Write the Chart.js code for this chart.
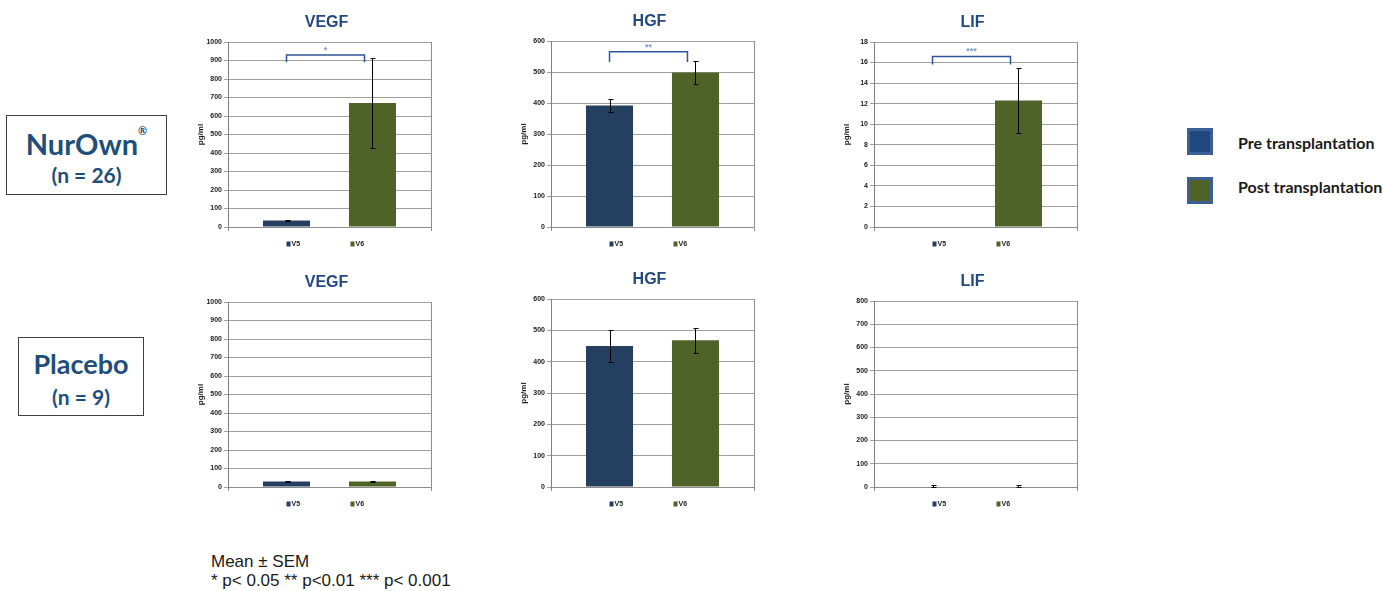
<!DOCTYPE html>
<html>
<head>
<meta charset="utf-8">
<title>NurOwn vs Placebo</title>
<script src="https://cdn.jsdelivr.net/npm/chart.js@4.4.1/dist/chart.umd.min.js"></script>
<style>
  body { margin: 0; width: 1383px; height: 591px; background: #fff; position: relative; overflow: hidden; font-family: Lato, sans-serif; }
  canvas { position: absolute; }
  .group { position: absolute; border: 1px solid #404040; box-sizing: border-box; color: #1F4E79; font-weight: 700; text-align: center; }
  .group .name { position: absolute; left: 0; right: 0; line-height: 1; }
  .group sup { font-size: 11px; position: relative; top: -4px; vertical-align: top; }
  .key { position: absolute; width: 26px; height: 27px; box-sizing: border-box; border: 3px solid #3E5F93; }
  .keytext { position: absolute; font: 700 16px Lato, sans-serif; color: #1a1a1a; line-height: 1; white-space: nowrap; }
  .note { position: absolute; left: 211px; font: 17px "Liberation Sans", Arial, sans-serif; color: #1a1a1a; line-height: 1; white-space: nowrap; }
</style>
</head>
<body>

<div class="group" style="left:6px; top:115px; width:161px; height:80px;">
  <div class="name" style="top:13px; font-size:29px;">NurOwn<sup>®</sup></div>
  <div class="name" style="top:48px; font-size:21px;">(n = 26)</div>
</div>
<div class="group" style="left:18px; top:337px; width:126px; height:79px;">
  <div class="name" style="top:12px; font-size:27px;">Placebo</div>
  <div class="name" style="top:48px; font-size:21px;">(n = 9)</div>
</div>

<div class="key" style="left:1187px; top:128px; background:#1F497D;"></div>
<div class="keytext" style="left:1238px; top:135px;">Pre transplantation</div>
<div class="key" style="left:1187px; top:177px; background:#4F6228;"></div>
<div class="keytext" style="left:1238px; top:179px;">Post transplantation</div>

<div class="note" style="top:553px;">Mean ± SEM</div>
<div class="note" style="top:572px;">* p&lt; 0.05 ** p&lt;0.01 *** p&lt; 0.001</div>

<canvas id="nurVegf" width="303" height="262" style="left:178px; top:0px;"></canvas>
<canvas id="nurHgf" width="303" height="262" style="left:501px; top:0px;"></canvas>
<canvas id="nurLif" width="303" height="262" style="left:824px; top:0px;"></canvas>
<canvas id="plaVegf" width="303" height="262" style="left:178px; top:260px;"></canvas>
<canvas id="plaHgf" width="303" height="262" style="left:501px; top:260px;"></canvas>
<canvas id="plaLif" width="303" height="262" style="left:824px; top:260px;"></canvas>

<script>
// визиты и цвета
const visits = ['V5', 'V6'];
const barColors = ['#243F60', '#4F6228'];
const markers = ['VEGF', 'HGF', 'LIF'];

// NurOwn (n = 26), pg/ml
const nurVegfMean = [35, 670];
const nurVegfSem = [3, 245];
const nurHgfMean = [392, 498];
const nurHgfSem = [22, 38];
const nurLifMean = [0, 12.3];
const nurLifSem = [0, 3.2];

// Placebo (n = 9), pg/ml
const plaVegfMean = [30, 30];
const plaVegfSem = [4, 4];
const plaHgfMean = [450, 468];
const plaHgfSem = [50, 40];
const plaLifMean = [2, 2];
const plaLifSem = [6, 6];

// оси
const nurAxisMax = [1000, 600, 18];
const nurAxisStep = [100, 100, 2];
const plaAxisMax = [1000, 600, 800];
const plaAxisStep = [100, 100, 100];

// значимость (только NurOwn)
const sigLabels = ['*', '**', '***'];
const sigTop = [930, 565, 16.6];
const sigTail = [890, 532, 15.8];

Chart.defaults.font.family = '"Liberation Sans", Arial, sans-serif';

// Заголовок по центру области графика
const centerTitlePlugin = {
    id: 'centerTitle',
    afterDraw(chart, args, opts) {
        if (!opts.text) return;
        const ctx = chart.ctx;
        const area = chart.chartArea;
        ctx.save();
        ctx.fillStyle = '#24497F';
        ctx.font = 'bold 16px "Liberation Sans", Arial, sans-serif';
        ctx.textAlign = 'center';
        ctx.textBaseline = 'middle';
        ctx.fillText(opts.text, (area.left + area.right) / 2 - 3, area.top - 19);
        ctx.restore();
    }
};

// Планки погрешностей (SEM)
const errorBarsPlugin = {
    id: 'errorBars',
    afterDatasetsDraw(chart, args, opts) {
        if (!opts.sem) return;
        const ctx = chart.ctx;
        const y = chart.scales.y;
        ctx.save();
        ctx.strokeStyle = '#000';
        ctx.lineWidth = 1;
        chart.data.datasets.forEach((ds, i) => {
            const err = opts.sem[i];
            if (!err) return;
            const bar = chart.getDatasetMeta(i).data[0];
            const x = Math.round(bar.x) + 0.5;
            const v = ds.data[0];
            const hi = Math.round(y.getPixelForValue(v + err)) + 0.5;
            const lo = Math.round(y.getPixelForValue(Math.max(0, v - err))) + 0.5;
            ctx.beginPath();
            ctx.moveTo(x, hi); ctx.lineTo(x, lo);
            ctx.moveTo(x - 2, hi); ctx.lineTo(x + 3, hi);
            ctx.moveTo(x - 2, lo); ctx.lineTo(x + 3, lo);
            ctx.stroke();
        });
        ctx.restore();
    }
};

// Скобка значимости над столбцами
const bracketPlugin = {
    id: 'sigBracket',
    afterDatasetsDraw(chart, args, opts) {
        if (!opts.label) return;
        const ctx = chart.ctx;
        const y = chart.scales.y;
        const x0 = chart.getDatasetMeta(0).data[0].x;
        const x1 = chart.getDatasetMeta(1).data[0].x - 8;
        const top = y.getPixelForValue(opts.top);
        const tail = y.getPixelForValue(opts.tail);
        ctx.save();
        ctx.strokeStyle = '#2F5597';
        ctx.lineWidth = 1.5;
        ctx.beginPath();
        ctx.moveTo(x0, tail);
        ctx.lineTo(x0, top);
        ctx.lineTo(x1, top);
        ctx.lineTo(x1, tail);
        ctx.stroke();
        ctx.fillStyle = '#7F98BF';
        ctx.font = 'bold 9px "Liberation Sans", Arial, sans-serif';
        ctx.textAlign = 'center';
        ctx.textBaseline = 'bottom';
        ctx.fillText(opts.label, (x0 + x1) / 2, top);
        ctx.restore();
    }
};

// Легенда под графиком: маленькие квадраты V5 / V6
const visitLegendPlugin = {
    id: 'visitLegend',
    afterDraw(chart) {
        const ctx = chart.ctx;
        const area = chart.chartArea;
        const cy = area.bottom + 17;
        const startX = (area.left + area.right) / 2 - 43;
        ctx.save();
        ctx.font = 'bold 7px "Liberation Sans", Arial, sans-serif';
        ctx.textBaseline = 'middle';
        chart.data.datasets.forEach((ds, i) => {
            const x = startX + i * 64;
            ctx.fillStyle = ds.backgroundColor;
            ctx.fillRect(x, cy - 2.5, 4, 5);
            ctx.fillStyle = '#1a1a1a';
            ctx.fillText(ds.label, x + 5, cy + 0.5);
        });
        ctx.restore();
    }
};

function buildChart(id, title, mean, sem, yMax, yStep, sig, padTop) {
    const canvas = document.getElementById(id);
    if (!canvas) {
        console.error('Нет элемента', id);
        return null;
    }
    return new Chart(canvas, {
        type: 'bar',
        data: {
            labels: [''],
            datasets: visits.map((v, i) => ({
                label: v,
                data: [mean[i]],
                backgroundColor: barColors[i],
                borderWidth: 0,
                categoryPercentage: 0.847,
                barPercentage: 0.547
            }))
        },
        options: {
            responsive: false,
            animation: false,
            events: [],
            layout: {
                padding: { left: 16, right: 50, top: padTop, bottom: 31 }
            },
            plugins: {
                legend: { display: false },
                tooltip: { enabled: false },
                title: { display: false },
                centerTitle: { text: title },
                errorBars: { sem: sem },
                sigBracket: sig || {}
            },
            scales: {
                x: {
                    ticks: { display: false },
                    grid: { offset: true, color: '#8c8c8c', tickLength: 4 },
                    border: { color: '#8c8c8c' }
                },
                y: {
                    min: 0,
                    max: yMax,
                    ticks: {
                        stepSize: yStep,
                        padding: 2,
                        color: '#1a1a1a',
                        font: { size: 7, weight: 'bold' },
                        callback: value => String(value)
                    },
                    grid: { color: '#a0a0a0', tickLength: 4 },
                    border: { color: '#808080' },
                    title: {
                        display: true,
                        text: 'pg/ml',
                        color: '#1a1a1a',
                        font: { size: 8, weight: 'bold' },
                        padding: { top: 2, bottom: 0 }
                    },
                    afterFit(scale) {
                        scale.width = 34;
                    }
                }
            }
        },
        plugins: [centerTitlePlugin, errorBarsPlugin, bracketPlugin, visitLegendPlugin]
    });
}

document.addEventListener('DOMContentLoaded', function() {
    buildChart('nurVegf', markers[0], nurVegfMean, nurVegfSem, nurAxisMax[0], nurAxisStep[0],
        { label: sigLabels[0], top: sigTop[0], tail: sigTail[0] }, 42);
    buildChart('nurHgf', markers[1], nurHgfMean, nurHgfSem, nurAxisMax[1], nurAxisStep[1],
        { label: sigLabels[1], top: sigTop[1], tail: sigTail[1] }, 41);
    buildChart('nurLif', markers[2], nurLifMean, nurLifSem, nurAxisMax[2], nurAxisStep[2],
        { label: sigLabels[2], top: sigTop[2], tail: sigTail[2] }, 42);

    buildChart('plaVegf', markers[0], plaVegfMean, plaVegfSem, plaAxisMax[0], plaAxisStep[0], null, 42);
    buildChart('plaHgf', markers[1], plaHgfMean, plaHgfSem, plaAxisMax[1], plaAxisStep[1], null, 39);
    buildChart('plaLif', markers[2], plaLifMean, plaLifSem, plaAxisMax[2], plaAxisStep[2], null, 41);
});
</script>
</body>
</html>
